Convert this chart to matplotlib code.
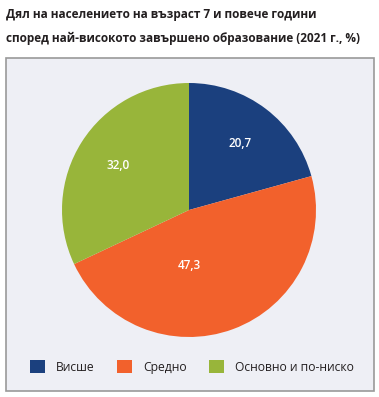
import matplotlib.pyplot as plt
from matplotlib.patches import Rectangle, Patch

labels = ["Висше", "Средно", "Основно и по-ниско"]
values = [20.7, 47.3, 32.0]
colors = ["#1b407e", "#f2612c", "#98b53a"]
title = "Дял на населението на възраст 7 и повече години\nспоред най-високото завършено образование (2021 г., %)"

plt.rcParams["font.family"] = ["Open Sans", "DejaVu Sans"]

W, H = 379, 397
fig = plt.figure(figsize=(W / 100, H / 100), dpi=100)

# panel background with border
fig.patches.append(Rectangle((6 / W, 1 - 391 / H), 368 / W, 333 / H,
                             transform=fig.transFigure, facecolor="#eeeff5",
                             edgecolor="#999999", linewidth=1.2, zorder=-5))

fig.text(6 / W, 1 - 8 / H, title, ha="left", va="top", fontsize=8.5,
         fontweight="bold", color="#231f20", linespacing=2.1)

r = 127
cx, cy = 189, 210
ax = fig.add_axes([(cx - r) / W, 1 - (cy + r) / H, 2 * r / W, 2 * r / H])
ax.set_zorder(2)
wedges, texts, autotexts = ax.pie(
    values, colors=colors, startangle=90, counterclock=False, radius=1,
    autopct=lambda p: f"{p:.1f}".replace(".", ","), pctdistance=0.66,
    textprops=dict(color="white", fontsize=8.5, fontweight="semibold"),
    wedgeprops=dict(linewidth=0))
autotexts[1].set_position((0, -0.44))
ax.set_xlim(-1, 1)
ax.set_ylim(-1, 1)
ax.set_aspect("equal")
ax.axis("off")

handles = [Patch(facecolor=c, edgecolor="none") for c in colors]
leg = fig.legend(handles, labels, loc="center", bbox_to_anchor=(192 / W, 1 - 367 / H),
                 ncol=3, frameon=False, fontsize=8.7, handlelength=1.2, handleheight=1.25,
                 handletextpad=0.9, columnspacing=1.9, labelcolor="#231f20")
leg.set_zorder(3)

fig.savefig("out.png", dpi=100)
